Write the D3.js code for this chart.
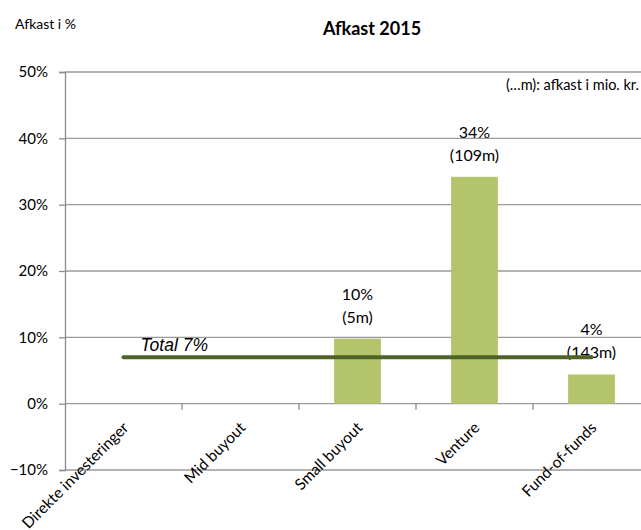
<!DOCTYPE html>
<html>
    <head>
        <meta charset="utf-8">
        <title>Afkast 2015</title>
        <script type="text/javascript" src="https://d3js.org/d3.v7.min.js"></script>
        <style>
            body {margin: 0; background: white;}
            svg {display: block; overflow: hidden;}
            text {font-family: Lato, "Open Sans", sans-serif; fill: #000;}
        </style>
    </head>
    <body>
        <script>
            // data
            var categories = ["Direkte investeringer", "Mid buyout", "Small buyout", "Venture", "Fund-of-funds"];
            var returns = [null, null, 0.098, 0.342, 0.044];
            var pctLabels = ["", "", "10%", "34%", "4%"];
            var amountLabels = ["", "", "(5m)", "(109m)", "(143m)"];
            var total = 0.07;
            var totalLabel = "Total 7%";
            var yTicks = [-0.1, 0, 0.1, 0.2, 0.3, 0.4, 0.5];

            var W = 641, H = 530;
            var plotLeft = 65, plotRight = 650, plotTop = 72, plotBottom = 470;

            var svg = d3.select("body").append("svg")
                .attr("width", W)
                .attr("height", H);

            var x = d3.scaleBand()
                .domain(categories)
                .range([plotLeft, plotRight]);

            var y = d3.scaleLinear()
                .domain([-0.1, 0.5])
                .range([plotBottom, plotTop]);

            // gridlines
            svg.append("g").selectAll("line")
                .data(yTicks)
                .enter()
                .append("line")
                .attr("x1", plotLeft)
                .attr("x2", plotRight)
                .attr("y1", function(d) { return y(d); })
                .attr("y2", function(d) { return y(d); })
                .attr("stroke", "#9a9a9a")
                .attr("stroke-width", 1.3);

            // y axis
            var yAxis = d3.axisLeft(y)
                .tickValues(yTicks)
                .tickSize(6)
                .tickFormat(d3.format(".0%"));

            var gy = svg.append("g")
                .attr("transform", "translate(" + plotLeft + ",0)")
                .call(yAxis);
            gy.select(".domain").attr("stroke", "#8c8c8c").attr("stroke-width", 1.3);
            gy.selectAll(".tick line").attr("stroke", "#8c8c8c").attr("stroke-width", 1.3);
            gy.selectAll(".tick text")
                .attr("x", -17)
                .style("font-size", "15px")
                .style("font-family", "Lato, sans-serif");

            // x axis at zero with ticks between categories
            var gx = svg.append("g")
                .attr("transform", "translate(0," + y(0) + ")");
            gx.selectAll("line")
                .data(categories.slice(1))
                .enter()
                .append("line")
                .attr("x1", function(d) { return x(d); })
                .attr("x2", function(d) { return x(d); })
                .attr("y1", 0)
                .attr("y2", 6)
                .attr("stroke", "#8c8c8c")
                .attr("stroke-width", 1.3);

            gx.selectAll("text")
                .data(categories)
                .enter()
                .append("text")
                .attr("transform", function(d) {
                    return "translate(" + (x(d) + x.bandwidth() / 2 + 6) + ",25) rotate(-45)";
                })
                .attr("text-anchor", "end")
                .style("font-size", "15.5px")
                .text(function(d) { return d; });

            // bars
            var bw = x.bandwidth() * 0.4;
            var rows = categories.map(function(c, i) {
                return {cat: c, v: returns[i], pct: pctLabels[i], amt: amountLabels[i]};
            }).filter(function(d) { return d.v !== null; });

            var bars = svg.selectAll(".bar")
                .data(rows)
                .enter()
                .append("g")
                .attr("class", "bar");

            bars.append("rect")
                .attr("x", function(d) { return x(d.cat) + (x.bandwidth() - bw) / 2; })
                .attr("y", function(d) { return y(d.v); })
                .attr("width", bw)
                .attr("height", function(d) { return y(0) - y(d.v); })
                .attr("fill", "#b3c46a");

            bars.append("text")
                .attr("x", function(d) { return x(d.cat) + x.bandwidth() / 2; })
                .attr("y", function(d) { return y(d.v) - 39; })
                .attr("text-anchor", "middle")
                .style("font-size", "16px")
                .text(function(d) { return d.pct; });

            bars.append("text")
                .attr("x", function(d) { return x(d.cat) + x.bandwidth() / 2; })
                .attr("y", function(d) { return y(d.v) - 16; })
                .attr("text-anchor", "middle")
                .style("font-size", "16px")
                .text(function(d) { return d.amt; });

            // total line
            var x0 = x(categories[0]) + x.bandwidth() / 2,
                x1 = x(categories[categories.length - 1]) + x.bandwidth() / 2;
            svg.append("line")
                .attr("x1", x0)
                .attr("x2", x1)
                .attr("y1", y(total))
                .attr("y2", y(total))
                .attr("stroke", "#4f6228")
                .attr("stroke-width", 4)
                .attr("stroke-linecap", "round");

            svg.append("text")
                .attr("x", x0 + 17)
                .attr("y", y(total) - 6)
                .style("font-family", "'Liberation Sans', Arial, sans-serif")
                .style("font-style", "italic")
                .style("font-size", "17.5px")
                .text(totalLabel);

            // titles
            svg.append("text")
                .attr("x", 372)
                .attr("y", 35)
                .attr("text-anchor", "middle")
                .style("font-weight", "bold")
                .style("font-size", "18px")
                .text("Afkast 2015");

            svg.append("text")
                .attr("x", 15)
                .attr("y", 29)
                .style("font-size", "14px")
                .text("Afkast i %");

            svg.append("text")
                .attr("x", 639)
                .attr("y", 90)
                .attr("text-anchor", "end")
                .style("font-size", "14.5px")
                .text("(…m): afkast i mio. kr.");
        </script>
    </body>
</html>
